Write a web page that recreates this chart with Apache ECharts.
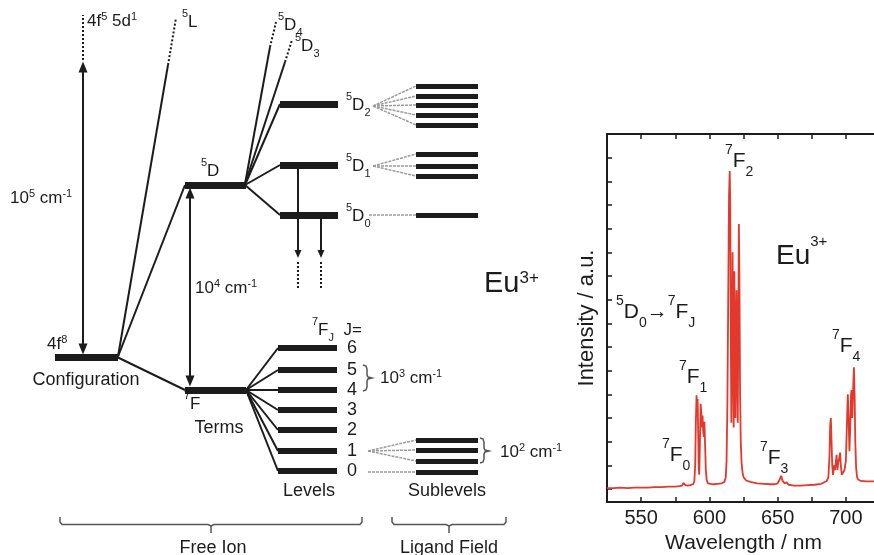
<!DOCTYPE html>
<html><head><meta charset="utf-8">
<script src="https://cdn.jsdelivr.net/npm/echarts@6/dist/echarts.min.js"></script>
<style>html,body{margin:0;padding:0;background:#fff}#c{width:874px;height:555px}</style>
</head><body><div id="c"></div>
<script>
// ================= DATA =================
// Emission spectrum of Eu3+ (5D0 -> 7FJ)
const wavelengthNm = [525,530,535,540,545,550,555,560,565,570,575,578,580,581,581.7,582.5,584,586,588,589,
  589.6,590.1,590.6,591.0,591.4,591.8,592.2,592.6,593.1,593.6,594.1,594.6,595.0,595.5,596.0,596.4,596.9,597.4,598.0,598.8,
  600,603,606,609,611,612,612.6,613.2,613.8,614.4,614.9,615.3,615.7,616.1,616.5,617.0,617.4,617.8,618.3,618.7,
  619.1,619.6,619.9,620.3,620.8,621.3,621.6,622.0,622.5,623.0,623.6,624.3,625,627,630,635,640,645,648,650,
  651.5,652.6,653.5,655,656.5,658,662,667,672,677,682,686,687.2,688,688.5,689.0,689.5,690,690.6,691.4,
  692,692.6,693.2,693.8,694.4,695.1,695.8,696.3,697,698,699,700,700.7,701.4,702.0,702.6,703.2,703.8,704.2,704.7,
  705.3,705.9,706.4,706.9,707.5,708.2,709,711,715,720,725];
const intensityAU = [0.02,0.02,0.03,0.02,0.03,0.03,0.03,0.04,0.04,0.05,0.05,0.06,0.07,0.13,0.16,0.08,0.07,0.08,0.10,0.16,
  0.50,1.40,1.98,1.70,1.90,1.20,0.45,0.30,1.00,1.80,1.60,1.30,1.55,1.20,1.10,1.42,0.90,0.40,0.20,0.12,
  0.09,0.10,0.11,0.12,0.15,0.25,0.60,1.80,4.00,6.20,6.72,6.00,3.20,1.40,2.50,5.00,3.00,1.30,4.60,3.00,
  1.50,3.50,4.20,2.50,1.40,4.00,5.60,4.50,2.00,1.00,0.55,0.35,0.25,0.18,0.15,0.12,0.11,0.10,0.10,0.12,
  0.20,0.28,0.18,0.12,0.14,0.09,0.07,0.07,0.08,0.09,0.11,0.17,0.25,0.70,1.35,1.50,1.00,0.50,0.30,0.50,
  0.40,0.55,0.72,0.40,0.55,0.65,0.77,0.50,0.30,0.30,0.40,0.60,1.30,2.00,1.50,0.80,1.30,2.00,2.09,1.50,
  2.10,2.57,2.00,1.00,0.45,0.25,0.20,0.17,0.16,0.16,0.16];
const wavelengthLabelStep = 50;   // labelled ticks 550, 600, 650, 700

// Energy-level diagram (schematic energies, diagram units, larger = lower)
const configE = 357.5;                       // 4f8 configuration
const term5DE = 185;                         // 5D term
const term7FE = 390;                         // 7F term
const d5J = [2, 1, 0];
const d5LevelE = [104, 165, 215];            // 5D2, 5D1, 5D0
const f7J = [6, 5, 4, 3, 2, 1, 0];
const f7LevelE = [348, 370, 390, 410, 430, 451, 471];
const d2SubE = [86, 96, 105, 115, 125];
const d1SubE = [154, 166, 176];
const d0SubE = [215];
const f1SubE = [440, 450, 461];
const f0SubE = [472];

// ================= LAYOUT / STYLE =================
const INK = '#1c1c1c';
const FONT = "'Liberation Sans', Arial, Helvetica, sans-serif";
const COL = { cfg0: 55, cfg1: 118, term0: 185, term1: 246, dLev0: 280, dLev1: 338,
  fLev0: 278, fLev1: 337, dFan: 373, fFan: 368, sub0: 416, sub1: 478 };

function seg(x0, y0, x1, y1) { return { coords: [[x0, y0], [x1, y1]] }; }
function poly(pts) { return { coords: pts }; }
function linesSeries(data, style, extra) {
  return Object.assign({
    type: 'lines', coordinateSystem: 'cartesian2d', xAxisIndex: 0, yAxisIndex: 0,
    data: data, silent: true, animation: false, symbol: 'none', z: 2,
    lineStyle: Object.assign({ color: INK, width: 2, opacity: 1, curveness: 0 }, style)
  }, extra || {});
}

// bars
const thickBars = [seg(COL.cfg0, configE, COL.cfg1, configE),
  seg(COL.term0, term5DE, COL.term1, term5DE), seg(COL.term0, term7FE, COL.term1, term7FE)]
  .concat(d5LevelE.map(e => seg(COL.dLev0, e, COL.dLev1, e)));
const levelBars = f7LevelE.map(e => seg(COL.fLev0, e, COL.fLev1, e));
const subBars = [].concat(d2SubE, d1SubE, d0SubE, f1SubE, f0SubE).map(e => seg(COL.sub0, e, COL.sub1, e));
// connectors
const connectors = [
  seg(COL.cfg1, configE, COL.term0, term7FE),
  seg(COL.cfg1, configE - 1, COL.term0, term5DE),
  seg(COL.cfg1, configE - 1, 168, 65),
  seg(COL.term1 - 1, term5DE - 1, 270, 47),
  seg(COL.term1 - 1, term5DE - 1, 285, 62)
].concat(d5LevelE.map(e => seg(COL.term1 - 1, term5DE, COL.dLev0, e)))
 .concat(f7LevelE.map(e => seg(COL.term1, term7FE, COL.fLev0, e)));
const dotted = [seg(168, 65, 176, 18), seg(270, 47, 276, 22), seg(285, 62, 292, 40), seg(83, 60, 83, 15),
  seg(298, 262, 298, 290), seg(321, 262, 321, 290)];
const fans = [].concat(
  d2SubE.map(e => seg(COL.dFan, d5LevelE[0] + 2, COL.sub0, e)),
  d1SubE.map(e => seg(COL.dFan, d5LevelE[1] + 1, COL.sub0, e)),
  d0SubE.map(e => seg(369, d5LevelE[2], COL.sub0, e)),
  f1SubE.map(e => seg(COL.fFan, f7LevelE[5], COL.sub0, e)),
  f0SubE.map(e => seg(COL.fFan, f7LevelE[6] + 1, COL.sub0, e)));
const doubleArrows = [seg(83, 67, 83, 349), seg(190, 193, 190, 381)];
const downArrows = [seg(298, d5LevelE[1], 298, 254), seg(321, d5LevelE[2], 321, 254)];
const braces = [
  poly([[363,365],[366,366],[367,369],[367,375],[368,377],[372,378],[368,379],[367,381],[367,387],[366,390],[363,391]]),
  poly([[480,438],[483,439],[484,442],[484,448],[485,450],[489,451],[485,452],[484,454],[484,459],[483,462],[480,463]]),
  poly([[60,517],[60,522],[62,524.5],[208,524.5],[211,526],[214,524.5],[360,524.5],[362,522],[362,517]]),
  poly([[392,517],[392,522],[394,524.5],[446,524.5],[449,526],[452,524.5],[504,524.5],[506,522],[506,517]]),
  seg(211, 525, 211, 533), seg(449, 525, 449, 533)
];

// ---------- rich text helpers ----------
function rich(size, small, lh) {
  const base = { fontFamily: FONT, fill: INK, color: INK };
  return {
    m: Object.assign({ fontSize: size, lineHeight: lh }, base),
    sup: Object.assign({ fontSize: small, lineHeight: small, verticalAlign: 'top' }, base),
    sub: Object.assign({ fontSize: small, lineHeight: small, verticalAlign: 'bottom' }, base)
  };
}
function txt(x, y, text, r, align) {
  return { type: 'text', x: x, y: y, silent: true, z: 100,
    style: { text: text, rich: r, textAlign: align || 'left', textVerticalAlign: 'middle',
      fill: INK, font: '17px ' + FONT } };
}
const R_TERM = rich(17, 11, 27);
const R_POW = rich(17, 11, 20);
const R_WORD = rich(18, 11, 22);
const R_SPEC = rich(21, 14, 36);

const texts = [
  txt(47, 344, '{m|4f}{sup|8}', R_POW),
  txt(87, 21, '{m|4f}{sup|5}{m| 5d}{sup|1}', R_POW),
  txt(182, 22, '{sup|5}{m|L}', R_TERM),
  txt(278, 25, '{sup|5}{m|D}{sub|4}', R_TERM),
  txt(295, 46, '{sup|5}{m|D}{sub|3}', R_TERM),
  txt(201, 171, '{sup|5}{m|D}', R_TERM),
  txt(184, 404, '{sup|7}{m|F}', R_TERM),
  txt(312, 330, '{sup|7}{m|F}{sub|J}{m|  J=}', R_TERM),
  txt(10, 198, '{m|10}{sup|5}{m| cm}{sup|-1}', R_POW),
  txt(195, 288, '{m|10}{sup|4}{m| cm}{sup|-1}', R_POW),
  txt(380, 378, '{m|10}{sup|3}{m| cm}{sup|-1}', R_POW),
  txt(500, 452, '{m|10}{sup|2}{m| cm}{sup|-1}', R_POW),
  txt(86, 380, '{m|Configuration}', R_WORD, 'center'),
  txt(219, 428, '{m|Terms}', R_WORD, 'center'),
  txt(309, 491, '{m|Levels}', R_WORD, 'center'),
  txt(447, 491, '{m|Sublevels}', R_WORD, 'center'),
  txt(213, 548, '{m|Free Ion}', R_WORD, 'center'),
  txt(449, 548, '{m|Ligand Field}', R_WORD, 'center'),
  txt(484, 284, '{m|Eu}{sup|3+}', rich(29, 17, 29)),
  // spectrum annotations
  txt(725, 161, '{sup|7}{m|F}{sub|2}', R_SPEC),
  txt(679, 377, '{sup|7}{m|F}{sub|1}', R_SPEC),
  txt(662, 455, '{sup|7}{m|F}{sub|0}', R_SPEC),
  txt(760, 458, '{sup|7}{m|F}{sub|3}', R_SPEC),
  txt(832, 346, '{sup|7}{m|F}{sub|4}', R_SPEC),
  txt(616, 312, '{sup|5}{m|D}{sub|0}{m|\u2192}{sup|7}{m|F}{sub|J}', R_SPEC),
  txt(776, 256, '{m|Eu}{sup|3+}', rich(28, 15, 44))
].concat(d5J.map((j, i) => txt(346, d5LevelE[i] + 1, '{sup|5}{m|D}{sub|' + j + '}', R_TERM)))
 .concat(f7J.map((j, i) => txt(352, f7LevelE[i], '{m|' + j + '}', R_WORD, 'center')));

// ================= CHART =================
const chart = echarts.init(document.getElementById('c'), null, { renderer: 'canvas' });
const GX = 607, GT = 134, GW = 273;
const tickStyle = { show: true, inside: true, length: 5, lineStyle: { color: INK, width: 1.5 } };
chart.setOption({
  animation: false,
  backgroundColor: '#fff',
  grid: [
    { left: 0, top: 0, right: 0, bottom: 0, containLabel: false, outerBoundsMode: 'none' },
    { left: GX, top: GT, width: GW, height: 368, containLabel: false, outerBoundsMode: 'none',
      show: true, borderColor: INK, borderWidth: 2, backgroundColor: 'transparent' },
    { left: GX, top: GT, width: GW, height: 355, containLabel: false, outerBoundsMode: 'none' }
  ],
  xAxis: [
    { type: 'value', gridIndex: 0, min: 0, max: 874, show: false },
    { type: 'value', gridIndex: 1, min: 525, max: 725, interval: 25, position: 'bottom',
      axisLine: { lineStyle: { color: INK, width: 2 } }, axisTick: tickStyle, splitLine: { show: false },
      axisLabel: { fontSize: 20, fontFamily: FONT, color: INK, margin: 6,
        formatter: v => (v % wavelengthLabelStep === 0 ? String(v) : '') },
      name: 'Wavelength / nm', nameLocation: 'middle', nameGap: 27,
      nameTextStyle: { fontSize: 21, fontFamily: FONT, color: INK } },
    { type: 'value', gridIndex: 1, min: 525, max: 725, interval: 25, position: 'top',
      axisLine: { lineStyle: { color: INK, width: 2 } }, axisTick: tickStyle,
      axisLabel: { show: false }, splitLine: { show: false } },
    { type: 'value', gridIndex: 2, min: 525, max: 725, show: false }
  ],
  yAxis: [
    { type: 'value', gridIndex: 0, min: 0, max: 555, inverse: true, show: false },
    { type: 'value', gridIndex: 1, min: 0, max: 1, axisLine: { show: false }, axisTick: { show: false },
      axisLabel: { show: false }, splitLine: { show: false },
      name: 'Intensity / a.u.', nameLocation: 'middle', nameGap: 9,
      nameTextStyle: { fontSize: 22, fontFamily: FONT, color: INK } },
    { type: 'value', gridIndex: 2, min: 0, max: 7.5, interval: 0.5, position: 'left',
      axisLine: { show: false }, axisTick: tickStyle, axisLabel: { show: false }, splitLine: { show: false } },
    { type: 'value', gridIndex: 2, min: 0, max: 7.5, interval: 0.5, position: 'right',
      axisLine: { show: false }, axisTick: tickStyle, axisLabel: { show: false }, splitLine: { show: false } }
  ],
  series: [
    linesSeries(fans, { color: '#9c9c9c', width: 1.5, type: [3, 1] }, { z: 1 }),
    linesSeries(connectors, { width: 2 }),
    linesSeries(dotted, { width: 2, type: [2, 2] }),
    linesSeries(braces, { color: '#555', width: 1.5 }, { polyline: true }),
    linesSeries(doubleArrows, { width: 2 }, { symbol: ['triangle', 'triangle'], symbolSize: [[9, 11], [9, 11]] }),
    linesSeries(downArrows, { width: 2 }, { symbol: ['none', 'triangle'], symbolSize: [[7, 8], [7, 8]] }),
    linesSeries(thickBars, { width: 7 }, { z: 3 }),
    linesSeries(levelBars, { width: 6 }, { z: 3 }),
    linesSeries(subBars, { width: 5 }, { z: 3 }),
    { type: 'line', xAxisIndex: 3, yAxisIndex: 2, data: wavelengthNm.map((w, i) => [w, intensityAU[i]]),
      showSymbol: false, symbol: 'none', lineStyle: { color: '#e3382c', width: 1.8 }, silent: true, z: 5 }
  ],
  graphic: { elements: texts }
});
</script></body></html>
